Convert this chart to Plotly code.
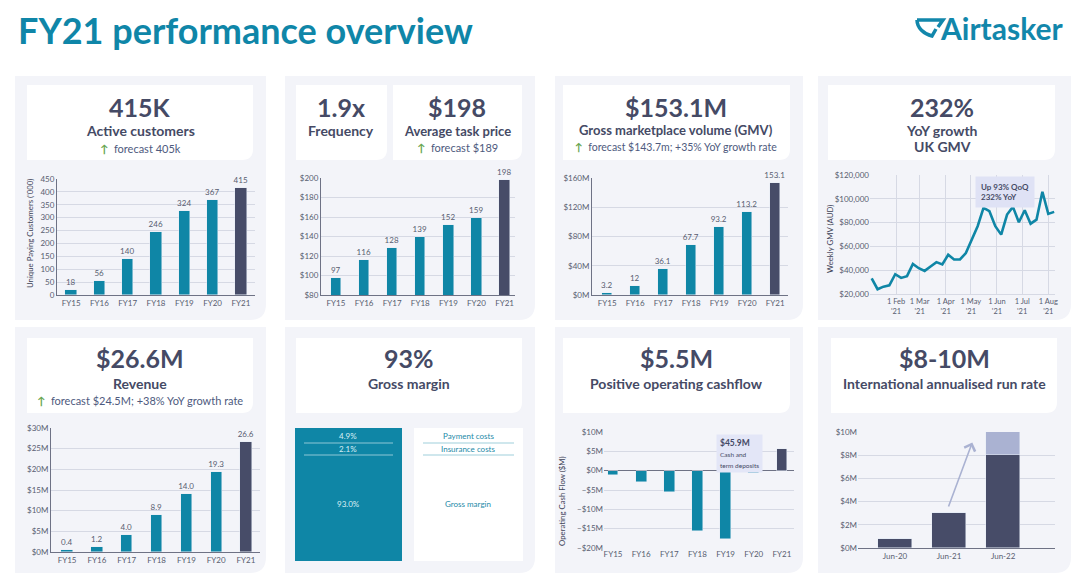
import plotly.graph_objects as go

# the page shows the figure with an 8px body margin, so the figure is sized to fill the rest
OFF = 8
W, H = 1089 - OFF, 576 - OFF

# ---------------- data ----------------
fy_years = ["FY15", "FY16", "FY17", "FY18", "FY19", "FY20", "FY21"]
active_customers_k = [18, 56, 140, 246, 324, 367, 415]
avg_task_price = [97, 116, 128, 139, 152, 159, 198]
gmv_m = [3.2, 12, 36.1, 67.7, 93.2, 113.2, 153.1]
revenue_m = [0.4, 1.2, 4.0, 8.9, 14.0, 19.3, 26.6]
op_cashflow_m = [-1.1, -3.0, -5.5, -15.7, -17.8, -0.5, 5.5]

uk_weeks = ["2021-01-03", "2021-01-10", "2021-01-17", "2021-01-24", "2021-01-31",
            "2021-02-07", "2021-02-14", "2021-02-21", "2021-02-28",
            "2021-03-07", "2021-03-14", "2021-03-21", "2021-03-28",
            "2021-04-04", "2021-04-11", "2021-04-18", "2021-04-25",
            "2021-05-02", "2021-05-09", "2021-05-16", "2021-05-23", "2021-05-30",
            "2021-06-06", "2021-06-13", "2021-06-20", "2021-06-27",
            "2021-07-04", "2021-07-11", "2021-07-18", "2021-07-25",
            "2021-08-01", "2021-08-08"]
uk_weekly_gmv = [33200, 24000, 26200, 27300, 36600, 33500, 35000, 45300, 41700,
                 39400, 43100, 46800, 44800, 53000, 49000, 49000, 54400, 66500,
                 77000, 92400, 89600, 77000, 69900, 86800, 93200, 80300, 90400,
                 79100, 82500, 105900, 87300, 89000]

margin_labels = ["Payment costs", "Insurance costs", "Gross margin"]
margin_shares = [4.9, 2.1, 93.0]

intl_periods = ["Jun-20", "Jun-21", "Jun-22"]
intl_low_m = [0.8, 3.0, 8.0]
intl_range_m = [0, 0, 2.0]

# ---------------- style ----------------
TEAL = "#0f86a6"
DARK = "#474c68"
LAV = "#aab2d2"
CARD = "#f3f4f9"
GRID = "#d6d9e4"
AXIS = "#6e7285"
TICK = "#585d70"
TXT = "#454a65"
SUB = "#4e5a7e"
GREEN = "#67a54f"
FONT = "Lato"


def X(p):
    return (p - OFF) / W


def Y(p):
    return 1 - (p - OFF) / H


fig = go.Figure()
shapes = []
annotations = []


def rrect(x0, y0, x1, y1, r, color):
    path = (f"M {X(x0)},{Y(y0)} L {X(x1)},{Y(y0)} L {X(x1)},{Y(y1 - r)} "
            f"Q {X(x1)},{Y(y1)} {X(x1 - r)},{Y(y1)} L {X(x0)},{Y(y1)} Z")
    shapes.append(dict(type="path", path=path, xref="paper", yref="paper",
                       fillcolor=color, line=dict(width=0), layer="below"))


def txt(x, y, text, size, color=TXT, xanchor="center", bold=True, angle=0):
    annotations.append(dict(x=X(x), y=Y(y), xref="paper", yref="paper",
                            text=(f"<b>{text}</b>" if bold else text),
                            showarrow=False, xanchor=xanchor, yanchor="middle",
                            textangle=angle,
                            font=dict(family=FONT, size=size, color=color)))


def axes(n, xd, yd, xcfg, ycfg):
    xs = "xaxis" if n == 1 else f"xaxis{n}"
    ys = "yaxis" if n == 1 else f"yaxis{n}"
    xr = "x" if n == 1 else f"x{n}"
    yr = "y" if n == 1 else f"y{n}"
    bx = dict(domain=[X(xd[0]), X(xd[1])], anchor=yr, showgrid=False, zeroline=False,
              ticks="", tickfont=dict(family=FONT, size=8, color=TICK), automargin=False,
              showline=True, linecolor=AXIS, linewidth=1, fixedrange=True)
    by = dict(domain=[Y(yd[1]), Y(yd[0])], anchor=xr, showgrid=True, gridcolor=GRID,
              gridwidth=1, zeroline=False, ticks="", automargin=False,
              tickfont=dict(family=FONT, size=8, color=TICK),
              showline=True, linecolor=AXIS, linewidth=1, fixedrange=True)
    bx.update(xcfg)
    by.update(ycfg)
    fig.update_layout(**{xs: bx, ys: by})
    return xr, yr


def fy_bars(n, values, labels, width):
    xr = "x" if n == 1 else f"x{n}"
    yr = "y" if n == 1 else f"y{n}"
    colors = [DARK if y == fy_years[-1] else TEAL for y in fy_years]
    fig.add_trace(go.Bar(x=fy_years, y=values, marker_color=colors, width=width,
                         text=labels, texttemplate="%{text}" if labels else None,
                         textposition="outside" if labels else "none",
                         constraintext="none", cliponaxis=False,
                         textfont=dict(family=FONT, size=8, color=TICK),
                         xaxis=xr, yaxis=yr, showlegend=False, hoverinfo="skip"))


# ---------------- cards ----------------
for (x0, x1) in [(15, 266), (285, 535), (555, 803), (818, 1071)]:
    rrect(x0, 76, x1, 320, 16, CARD)
    rrect(x0, 327, x1, 573, 16, CARD)
for (x0, x1) in [(27, 253), (296, 387), (393, 522), (563, 790), (828, 1055)]:
    rrect(x0, 85, x1, 160, 11, "white")
for (x0, x1) in [(27, 253), (296, 522), (563, 790), (831, 1057)]:
    rrect(x0, 338, x1, 413, 11, "white")

# ---------------- header ----------------
txt(16, 30, "FY21 performance overview", 36, color="#0f86a8", xanchor="left")
txt(938, 28, "Airtasker", 30, color="#1287ab", xanchor="left")
shapes.append(dict(type="path", xref="paper", yref="paper", layer="above",
                   path=f"M {X(917)},{Y(20)} L {X(943)},{Y(20)} L {X(938)},{Y(27)} "
                        f"M {X(917)},{Y(20)} C {X(917)},{Y(28)} {X(924)},{Y(34)} {X(932)},{Y(36)} "
                        f"L {X(936)},{Y(29)}",
                   line=dict(color="#1287ab", width=3.5)))

up = f"<span style='color:{GREEN}'><b>↑</b></span>  "

# card texts row 1
txt(140, 107, "415K", 25)
txt(140, 130, "Active customers", 14)
txt(140, 148, up + "forecast 405k", 11, color=SUB, bold=False)
txt(341, 107, "1.9x", 25)
txt(341, 130, "Frequency", 14)
txt(457, 107, "$198", 25)
txt(457, 131, "Average task price", 13)
txt(457, 147, up + "forecast $189", 11, color=SUB, bold=False)
txt(676, 107, "$153.1M", 25)
txt(676, 130, "Gross marketplace volume (GMV)", 13)
txt(676, 147, up + "forecast $143.7m; +35% YoY growth rate", 10.5, color=SUB, bold=False)
txt(942, 107, "232%", 25)
txt(942, 130, "YoY growth", 14)
txt(942, 146, "UK GMV", 14)

# card texts row 2
txt(140, 358, "$26.6M", 25)
txt(140, 383, "Revenue", 14)
txt(140, 400, up + "forecast $24.5M; +38% YoY growth rate", 11, color=SUB, bold=False)
txt(409, 358, "93%", 25)
txt(409, 383, "Gross margin", 14)
txt(676, 358, "$5.5M", 25)
txt(676, 383, "Positive operating cashflow", 14)
txt(944, 358, "$8-10M", 25)
txt(944, 383, "International annualised run rate", 14)

# ---------------- chart 1: active customers ----------------
axes(1, (57, 255), (179, 295), dict(range=[-0.5, 6.5]),
     dict(range=[0, 450], dtick=50))
fy_bars(1, active_customers_k, [f"{v:g}" for v in active_customers_k], 0.4)
txt(30, 234, "Unique Paying Customers ('000)", 7.8, color="#3d4257", bold=False, angle=-90)

# ---------------- chart 2: avg task price ----------------
axes(2, (321, 515), (178, 295), dict(range=[-0.53, 6.37]),
     dict(range=[80, 200], dtick=20, tickprefix="$"))
fy_bars(2, avg_task_price, [f"{v:g}" for v in avg_task_price], 0.37)

# ---------------- chart 3: GMV ----------------
axes(3, (592, 788), (178, 295), dict(range=[-0.54, 6.46]),
     dict(range=[0, 160], dtick=40, tickprefix="$", ticksuffix="M"))
fy_bars(3, gmv_m, [f"{v:g}" for v in gmv_m], 0.37)

# ---------------- chart 4: UK weekly GMV ----------------
axes(4, (870, 1055), (175, 294),
     dict(type="date", range=["2021-01-01", "2021-08-09"], showgrid=True, gridcolor=GRID,
          tickvals=["2021-02-01", "2021-03-01", "2021-04-01", "2021-05-01",
                    "2021-06-01", "2021-07-01", "2021-08-01"],
          tickformat="%-d %b<br>'%y", showline=True, linecolor=GRID,
          tickfont=dict(family=FONT, size=7.5, color=TICK)),
     dict(range=[20000, 120000], dtick=20000, tickformat="$,", showline=False))
fig.add_trace(go.Scatter(x=uk_weeks, y=uk_weekly_gmv, mode="lines",
                         line=dict(color=TEAL, width=2.6), xaxis="x4", yaxis="y4",
                         showlegend=False, hoverinfo="skip"))
txt(830, 239, "Weekly GMV (AUD)", 7.8, color="#3d4257", bold=False, angle=-90)
annotations.append(dict(x=X(975), y=Y(176), xref="paper", yref="paper",
                        xanchor="left", yanchor="top", showarrow=False, align="left",
                        text="<b>Up 93% QoQ<br>232% YoY</b>", bgcolor="#dfe2f5",
                        borderpad=5, font=dict(family=FONT, size=8, color=TXT)))

# ---------------- chart 5: revenue ----------------
axes(5, (51, 260), (428, 552), dict(range=[-0.54, 6.47]),
     dict(range=[0, 30], dtick=5, tickprefix="$", ticksuffix="M"))
fy_bars(5, revenue_m, [f"{v:.1f}" for v in revenue_m], 0.38)

# ---------------- chart 6: gross margin ----------------
axes(6, (295, 402), (428, 561),
     dict(range=[-0.5, 0.5], visible=False, showline=False),
     dict(range=[0, 100], visible=False, showgrid=False, showline=False))
fig.add_trace(go.Bar(x=[0], y=[sum(margin_shares)], width=1, marker_color=TEAL,
                     marker_line_width=0, xaxis="x6", yaxis="y6",
                     showlegend=False, hoverinfo="skip"))
rrect(414, 428, 523, 561, 0.01, "white")
rows_y = [436, 449, 504]
for lab, share, yy in zip(margin_labels, margin_shares, rows_y):
    txt(348, yy, f"{share:.1f}%", 8, color="#d9eef4", bold=False)
    txt(468, yy, lab, 8, color="#1d8aa8", bold=False)
for yy in (443, 455):
    shapes.append(dict(type="line", xref="paper", yref="paper", x0=X(304), x1=X(393),
                       y0=Y(yy), y1=Y(yy), line=dict(color="#8ec7d6", width=1)))
    shapes.append(dict(type="line", xref="paper", yref="paper", x0=X(423), x1=X(514),
                       y0=Y(yy), y1=Y(yy), line=dict(color="#9fd0dc", width=1.2)))

# ---------------- chart 7: operating cash flow ----------------
axes(7, (604, 794), (432, 548), dict(range=[-0.32, 6.43], showline=False),
     dict(range=[-20, 10], dtick=5, tickformat="$d", ticksuffix="M", showline=False,
          zeroline=True, zerolinecolor=AXIS, zerolinewidth=1))
fy_bars(7, op_cashflow_m, None, 0.38)
txt(562, 501, "Operating Cash Flow ($M)", 7.8, color="#3d4257", bold=False, angle=-90)
annotations.append(dict(x=X(716), y=Y(434), xref="paper", yref="paper",
                        xanchor="left", yanchor="top", showarrow=False, align="left",
                        text="<b>$45.9M</b><br><span style='font-size:6.5px'>Cash and<br>term deposits</span>",
                        bgcolor="#e3e6f7", borderpad=3,
                        font=dict(family=FONT, size=8.5, color=TXT)))

# ---------------- chart 8: international run rate ----------------
axes(8, (858, 1055), (432, 548), dict(range=[-0.685, 2.96]),
     dict(range=[0, 10], dtick=2, tickprefix="$", ticksuffix="M", showline=False))
fig.add_trace(go.Bar(x=intl_periods, y=intl_low_m, width=0.64, marker_color=DARK,
                     xaxis="x8", yaxis="y8", showlegend=False, hoverinfo="skip"))
fig.add_trace(go.Bar(x=intl_periods, y=intl_range_m, width=0.64, marker_color=LAV,
                     xaxis="x8", yaxis="y8", showlegend=False, hoverinfo="skip"))
annotations.append(dict(x=1.43, y=9.1, ax=0.98, ay=3.45, xref="x8", yref="y8",
                        axref="x8", ayref="y8", showarrow=True, arrowhead=4,
                        arrowsize=1.4, arrowwidth=1.6, arrowcolor=LAV, text=""))

fig.update_layout(width=W, height=H, autosize=False,
                  margin=dict(l=0, r=0, t=0, b=0, pad=0),
                  paper_bgcolor="white", plot_bgcolor="rgba(0,0,0,0)",
                  barmode="stack", bargap=0, showlegend=False,
                  font=dict(family=FONT, color=TXT),
                  shapes=shapes, annotations=annotations)

fig.write_html("out.html")
